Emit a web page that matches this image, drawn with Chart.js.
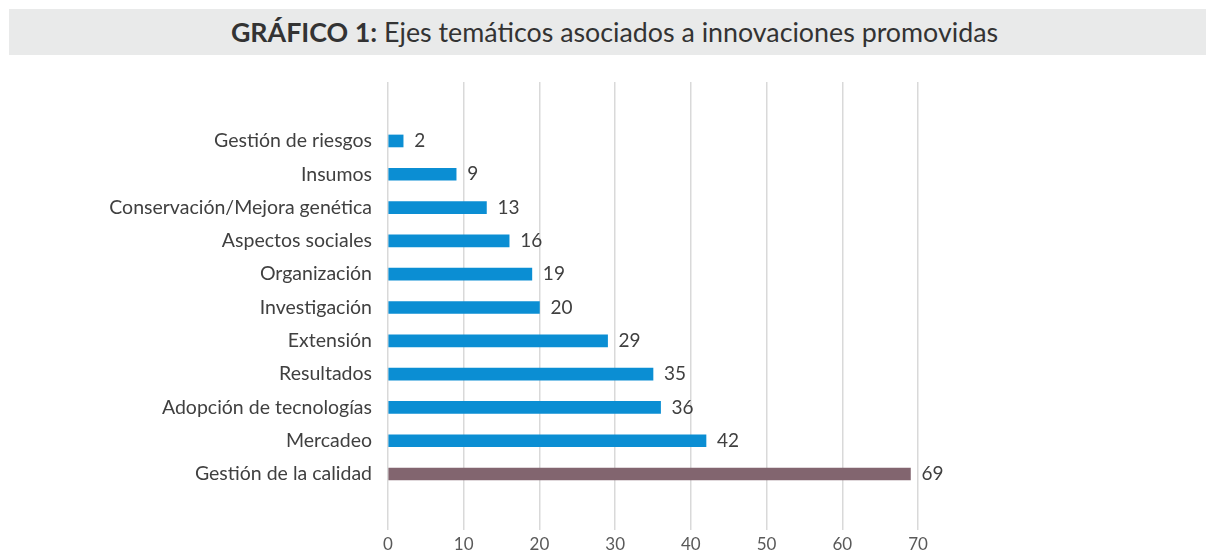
<!DOCTYPE html>
<html>
<head>
<meta charset="utf-8">
<script src="https://cdn.jsdelivr.net/npm/chart.js@4.4.0/dist/chart.umd.min.js"></script>
<style>
  html, body { margin: 0; padding: 0; background: #fff; }
  #wrap { position: relative; width: 1206px; height: 550px; }
  #titulo {
    position: absolute; left: 9px; top: 9px; width: 1183px; height: 46px; padding-left: 14px;
    background: #e9eaea; color: #333; font-family: Lato, "Open Sans", sans-serif;
    font-size: 26.8px; line-height: 46px; text-align: center;
  }
  canvas { position: absolute; left: 0; top: 0; }
</style>
</head>
<body>
<div id="wrap">
  <div id="titulo"><b>GRÁFICO 1:</b> Ejes temáticos asociados a innovaciones promovidas</div>
  <canvas id="grafico" width="1206" height="550"></canvas>
</div>
<script>
// categorias de arriba hacia abajo
const categorias = [
  'Gestión de riesgos', 'Insumos', 'Conservación/Mejora genética', 'Aspectos sociales',
  'Organización', 'Investigación', 'Extensión', 'Resultados',
  'Adopción de tecnologías', 'Mercadeo', 'Gestión de la calidad'
];
const valores = [2, 9, 13, 16, 19, 20, 29, 35, 36, 42, 69];
const ticksX = [0, 10, 20, 30, 40, 50, 60, 70];

const azul = '#0b8ed3';
const malva = '#82656f';
const colores = valores.map((v, i) => i === valores.length - 1 ? malva : azul);

// etiquetas de valor al final de cada barra
const etiquetas = {
  id: 'etiquetas',
  afterDatasetsDraw(chart) {
    const ctx = chart.ctx;
    const meta = chart.getDatasetMeta(0);
    ctx.save();
    ctx.font = '19px Lato, "Open Sans", sans-serif';
    ctx.fillStyle = '#404040';
    ctx.textBaseline = 'middle';
    meta.data.forEach((bar, i) => {
      ctx.fillText(String(valores[i]), bar.x + 11, bar.y);
    });
    ctx.restore();
  }
};

new Chart(document.getElementById('grafico'), {
  type: 'bar',
  data: {
    datasets: [{
      data: valores.map((v, i) => ({ x: v, y: i })),
      backgroundColor: colores,
      barThickness: 12
    }]
  },
  options: {
    indexAxis: 'y',
    responsive: false,
    animation: false,
    layout: { padding: { top: 82, right: 288, bottom: 0, left: 0 } },
    plugins: { legend: { display: false }, tooltip: { enabled: false } },
    scales: {
      x: {
        min: 0,
        max: 70,
        afterBuildTicks: (scale) => { scale.ticks = ticksX.map(v => ({ value: v })); },
        afterFit: (scale) => { scale.height = 20; },
        grid: { color: '#d9d9d9', lineWidth: 1.5, drawTicks: false },
        border: { display: false },
        ticks: {
          color: '#595959',
          padding: 4,
          font: { family: 'Lato, "Open Sans", sans-serif', size: 17 }
        }
      },
      y: {
        type: 'linear',
        reverse: true,
        offset: false,
        min: -1.77,
        max: 11.68,
        afterBuildTicks: (scale) => { scale.ticks = categorias.map((c, i) => ({ value: i })); },
        afterFit: (scale) => { scale.width = 388; scale.paddingTop = 0; scale.paddingBottom = 0; },
        grid: { display: false },
        border: { display: false },
        ticks: {
          color: '#404040',
          padding: 8,
          autoSkip: false,
          font: { family: 'Lato, "Open Sans", sans-serif', size: 19.5 },
          callback: (v) => categorias[v]
        }
      }
    }
  },
  plugins: [etiquetas]
});
</script>
</body>
</html>
